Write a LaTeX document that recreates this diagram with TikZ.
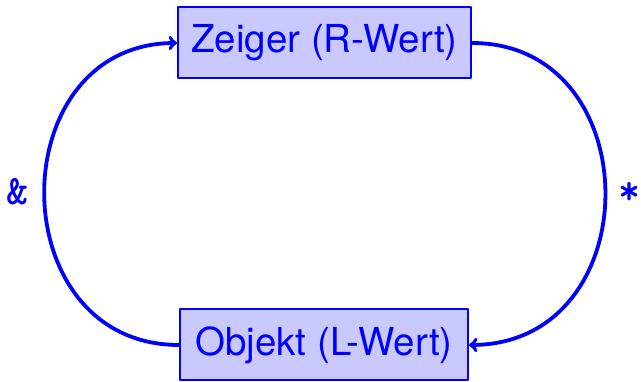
\documentclass[tikz,border=0pt]{standalone}
\usepackage{fontspec}
\setsansfont{TeX Gyre Heros}
\usepackage{pgf,tikz}
\usetikzlibrary{arrows}

\tikzset{wert/.style={draw=blue,line width=2pt,fill=blue!21,text=blue,
  inner sep=0pt,minimum height=71pt,font=\sffamily\fontsize{38.5}{40}\selectfont},
  zeigpfeil/.style={->,color=blue,line width=3.8pt},
  opzeichen/.style={text=blue,font=\ttfamily\bfseries\fontsize{42}{44}\selectfont}}

\begin{document}
\begin{tikzpicture}[line cap=round,line join=round,>=to,x=1pt,y=1pt]
\useasboundingbox (0,0) rectangle (641,382);
\node[wert,minimum width=293pt] (zeiger) at (324.5,339) {Zeiger (R-Wert)};
\node[wert,minimum width=288pt] (objekt) at (324,37) {Objekt (L-Wert)};
\draw[zeigpfeil] (zeiger.east) .. controls (650,339) and (650,37) .. (objekt.east);
\draw[zeigpfeil] (objekt.west) .. controls (0,37) and (0,339) .. (zeiger.west);
\node[opzeichen] (adr) at (18,190) {\&};
\node[opzeichen] (deref) at (630,188) {*};
\end{tikzpicture}
\end{document}
